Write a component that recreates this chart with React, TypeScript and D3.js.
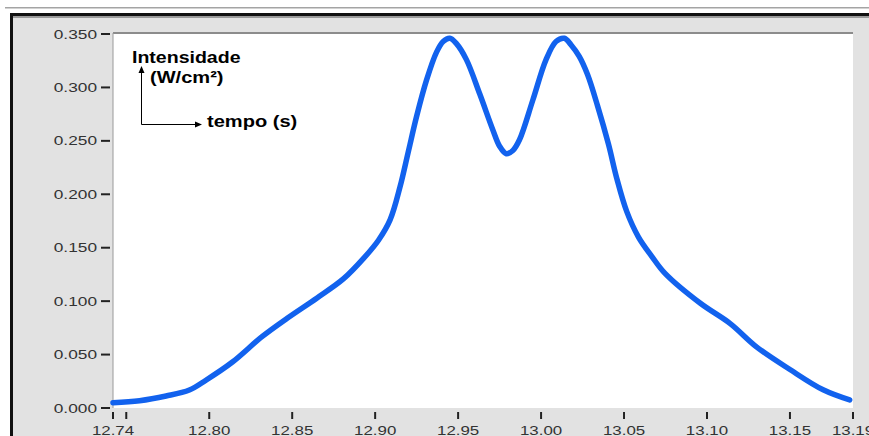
import React from 'react';
import * as d3 from 'd3';

// pulse intensity
const time = [
  12.742, 12.758, 12.774, 12.788, 12.798, 12.814, 12.832, 12.847, 12.865, 12.881,
  12.893, 12.902, 12.909, 12.915, 12.920, 12.925, 12.931, 12.937, 12.941,
  12.945, 12.949, 12.955, 12.963, 12.971, 12.975, 12.979, 12.983, 12.987, 12.995,
  13.003, 13.009, 13.014, 13.018, 13.023, 13.028, 13.034, 13.0406, 13.0456, 13.0516,
  13.0587, 13.0667, 13.0747, 13.096, 13.114, 13.130, 13.150, 13.170, 13.186,
];
const intensity = [
  0.005, 0.0068, 0.0112, 0.0168, 0.026, 0.043, 0.067, 0.084, 0.103, 0.121,
  0.140, 0.157, 0.176, 0.207, 0.240, 0.273, 0.307, 0.333, 0.343,
  0.346, 0.341, 0.326, 0.294, 0.260, 0.245, 0.238, 0.241, 0.251, 0.288,
  0.326, 0.343, 0.346, 0.340, 0.329, 0.312, 0.283, 0.247, 0.215, 0.184,
  0.160, 0.142, 0.126, 0.098, 0.079, 0.057, 0.036, 0.017, 0.0075,
];

const xDomain = [12.742, 13.188];
const yTicks = [0, 0.05, 0.1, 0.15, 0.2, 0.25, 0.3, 0.35];
const xMajorTicks = [12.8, 12.85, 12.9, 12.95, 13.0, 13.05, 13.1, 13.15];
const xMinorTicks = [12.75];

const W = 869;
const H = 436;
const plot = { left: 113, right: 853, top: 33, bottom: 408 };

const App = () => {
  const x = d3.scaleLinear().domain(xDomain).range([plot.left, plot.right]);
  const y = d3.scaleLinear().domain([0, 0.35]).range([plot.bottom, plot.top + 1]);

  const pts = time.map((t, i) => [t, intensity[i]] as [number, number]);
  const line = d3.line<[number, number]>()
    .x(d => x(d[0]))
    .y(d => y(d[1]))
    .curve(d3.curveCatmullRom.alpha(0.5));

  const fmtY = d3.format('.3f');
  const fmtX = d3.format('.2f');
  const tickFont = { fontFamily: 'Liberation Sans, Arial, sans-serif', fontSize: 13, fill: '#333' };
  const boldFont = { fontFamily: 'Liberation Sans, Arial, sans-serif', fontSize: 17, fontWeight: 700, fill: '#000' };

  const xLabels = [xDomain[0], ...xMajorTicks, xDomain[1]];

  return (
    <svg width={W} height={H} style={{ position: 'absolute', left: 0, top: 0, background: '#fff' }}>
      <rect x={5} y={7} width={W - 5} height={1.5} fill="#a4a4a4" />
      <rect x={13} y={16} width={W - 13} height={H - 16} fill="#e2e2e2" />
      <rect x={10} y={13} width={W - 10} height={3} fill="#111" />
      <rect x={13} y={16} width={W - 13} height={2} fill="#9a9a9a" />
      <rect x={10} y={13} width={3} height={H - 13} fill="#111" />

      {/* plot area */}
      <rect x={plot.left} y={plot.top} width={plot.right - plot.left} height={plot.bottom - plot.top} fill="#fff" />
      <line x1={plot.left} x2={plot.right} y1={plot.top} y2={plot.top} stroke="#8c8c8c" strokeWidth={2} />
      <line x1={plot.left} x2={plot.left} y1={plot.top} y2={plot.bottom} stroke="#9a9a9a" strokeWidth={1} />

      {/* y axis */}
      {yTicks.map(v => (
        <g key={v}>
          <line x1={101} x2={110} y1={y(v)} y2={y(v)} stroke="#222" strokeWidth={2} />
          <text transform={`translate(97,${y(v) + 4.5}) scale(1.33,1)`} textAnchor="end" {...tickFont}>
            {fmtY(v)}
          </text>
        </g>
      ))}

      {/* x axis */}
      {[...xLabels, ...xMinorTicks].map(v => (
        <line key={'t' + v} x1={x(v)} x2={x(v)} y1={412} y2={419} stroke="#222" strokeWidth={2} />
      ))}
      {xLabels.map(v => (
        <text key={'l' + v} transform={`translate(${x(v)},435) scale(1.3,1)`} textAnchor="middle" {...tickFont}>
          {fmtX(v)}
        </text>
      ))}

      <path d={line(pts) || ''} fill="none" stroke="#1262ee" strokeWidth={5.5} strokeLinejoin="round" strokeLinecap="round" />

      {/* axis legend */}
      <line x1={141.5} x2={141.5} y1={124.5} y2={72} stroke="#000" strokeWidth={1} />
      <path d="M141.5,66 L138.5,73 L144.5,73 Z" fill="#000" />
      <line x1={141.5} x2={196} y1={124.5} y2={124.5} stroke="#000" strokeWidth={1} />
      <path d="M202,124.5 L195,121.5 L195,127.5 Z" fill="#000" />
      <text transform="translate(132,62.5) scale(1.15,1)" {...boldFont}>Intensidade</text>
      <text transform="translate(150,83) scale(1.18,1)" {...boldFont}>(W/cm²)</text>
      <text transform="translate(207,127) scale(1.18,1)" {...boldFont}>tempo (s)</text>
    </svg>
  );
};

export default App;
